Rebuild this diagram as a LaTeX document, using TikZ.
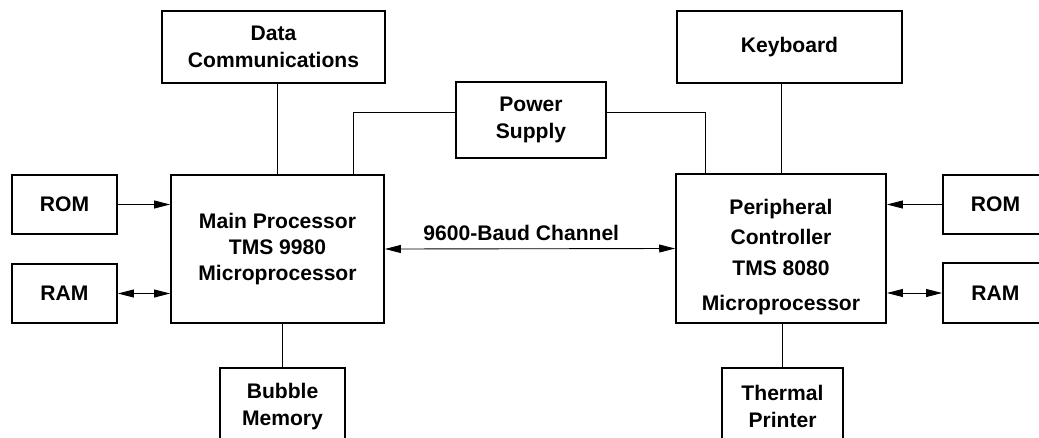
\documentclass[tikz,border=0pt]{standalone}
\usepackage{fontspec}
\setmainfont{Liberation Sans}
\usetikzlibrary{arrows.meta, calc}

\begin{document}
\begin{tikzpicture}[
    x=0.02cm, y=-0.02cm,
    box/.style={draw, line width=1.1pt, inner sep=0pt, align=center, font=\fontsize{12}{15}\selectfont\bfseries},
    wire/.style={line width=0.5pt},
    arrow/.style={wire, -{Triangle[length=9pt, width=4.5pt]}},
    dblarrow/.style={wire, {Triangle[length=9pt, width=4.5pt]}-{Triangle[length=9pt, width=4.5pt]}},
]

% Frame
\useasboundingbox (0,0) rectangle (1039,437);
\clip (0,0) rectangle (1039,437);

% Top row
\node[box, minimum width=4.46cm, minimum height=1.44cm] (dcomm) at (273.5,47) {Data\\Communications};
\node[box, minimum width=4.5cm, minimum height=1.44cm] (keyb) at (789.5,47) {Keyboard};
\node[box, minimum width=3cm, minimum height=1.52cm] (power) at (531,120) {Power\\Supply};

% Processors
\node[box, minimum width=4.26cm, minimum height=2.96cm] (main) at (277.5,249) {Main Processor\\TMS 9980\\Microprocessor};
\node[box, minimum width=4.2cm, minimum height=2.98cm] (periph) at (781,248.5) {\mbox{}\\[3.5pt]Peripheral\\[2pt]Controller\\[3pt]TMS 8080\\[5pt]Microprocessor};

% Memories
\node[box, minimum width=2.1cm, minimum height=1.18cm] (lrom) at (64.5,204.5) {ROM};
\node[box, minimum width=2.1cm, minimum height=1.18cm] (lram) at (64.5,293.5) {RAM};
\node[box, minimum width=2.1cm, minimum height=1.18cm] (rrom) at (995.5,204.5) {ROM};
\node[box, minimum width=2.1cm, minimum height=1.2cm] (rram) at (995.5,293) {RAM};

% Bottom row
\node[box, minimum width=2.5cm, minimum height=1.54cm] (bubble) at (282.5,406.5) {Bubble\\Memory};
\node[box, minimum width=2.42cm, minimum height=1.54cm] (thermal) at (782.5,406.5) {Thermal\\Printer};

% Lines
\draw[wire] (main.north |- dcomm.south) -- (main.north);
\draw[wire] (periph.north |- keyb.south) -- (periph.north);
\draw[wire] ($(power.north west)!0.4!(power.south west)$) -| ($(main.north)!0.71!(main.north east)$);
\draw[wire] ($(power.north east)!0.4!(power.south east)$) -| ($(periph.north)!0.71!(periph.north west)$);
\draw[wire] (bubble.north |- main.south) -- (bubble.north);
\draw[wire] (thermal.north |- periph.south) -- (thermal.north);

% Arrows
\draw[arrow] (lrom.east) -- (lrom.east -| main.west);
\draw[dblarrow] (lram.east) -- (lram.east -| main.west);
\draw[arrow] (rrom.west) -- (rrom.west -| periph.east);
\draw[dblarrow] (rram.west) -- (rram.west -| periph.east);
\draw[dblarrow] (main.east) -- node[pos=0.47, above=4.5pt, inner sep=0pt, font=\fontsize{12}{15}\selectfont\bfseries] (baud) {9600-Baud Channel} (periph.west);

\end{tikzpicture}
\end{document}
